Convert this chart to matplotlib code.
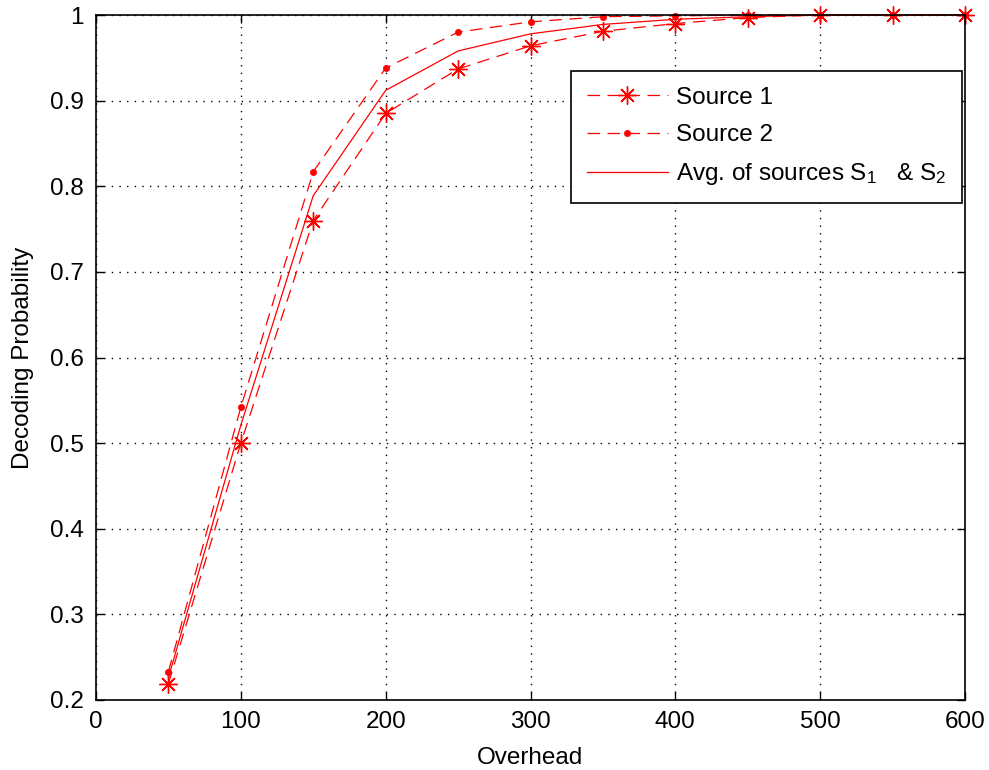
import matplotlib
matplotlib.use("Agg")
import matplotlib.pyplot as plt

family, fs = 'Liberation Sans', 17.5

plt.rcParams['font.family'] = [family, 'DejaVu Sans']
plt.rcParams['mathtext.fontset'] = 'custom'
plt.rcParams['mathtext.rm'] = family
plt.rcParams['mathtext.it'] = family

overhead = [50, 100, 150, 200, 250, 300, 350, 400, 450, 500, 550, 600]
source1 = [0.219, 0.500, 0.760, 0.885, 0.937, 0.964, 0.981, 0.990, 0.997, 1.0, 1.0, 1.0]
source2 = [0.233, 0.542, 0.817, 0.938, 0.980, 0.992, 0.998, 0.999, 1.0, 1.0, 1.0, 1.0]
average = [0.226, 0.521, 0.789, 0.912, 0.958, 0.978, 0.989, 0.995, 0.998, 1.0, 1.0, 1.0]

xticks = [0, 100, 200, 300, 400, 500, 600]
xticklabels = ['0', '100', '200', '300', '400', '500', '600']
yticks = [0.2, 0.3, 0.4, 0.5, 0.6, 0.7, 0.8, 0.9, 1.0]
yticklabels = ['0.2', '0.3', '0.4', '0.5', '0.6', '0.7', '0.8', '0.9', '1']

fig = plt.figure(figsize=(9.89, 7.70), dpi=100)
ax = fig.add_axes([96/989, 70/770, 869/989, 685/770])

red = '#FF0000'
ax.plot(overhead, source1, color=red, lw=0.9, linestyle=(0, (10, 6)),
        marker=(8, 2, 0), markersize=13, markeredgewidth=1.0,
        label='Source 1', clip_on=False, zorder=3)
ax.plot(overhead, source2, color=red, lw=0.9, linestyle=(0, (10, 6)),
        marker='o', markersize=4.5, markeredgewidth=0.5,
        label='Source 2', clip_on=False, zorder=3)
ax.plot(overhead, average, color=red, lw=0.9, linestyle='-',
        label=r'Avg. of sources $\mathregular{S_1}$   & $\mathregular{S_2}$',
        clip_on=False, zorder=3)

ax.set_xlim(0, 600)
ax.set_ylim(0.2, 1.0)
ax.set_xticks(xticks)
ax.set_xticklabels(xticklabels)
ax.set_yticks(yticks)
ax.set_yticklabels(yticklabels)
ax.tick_params(axis='x', pad=8)
ax.tick_params(axis='y', pad=9)
ax.tick_params(direction='in', length=6, width=1, top=True, right=True,
               labelsize=fs)
ax.grid(True, color='black', linestyle=(0, (1, 4.5)), linewidth=1.0)
for s in ax.spines.values():
    s.set_linewidth(1.2)
    s.set_zorder(4)

ax.set_xlabel('Overhead', fontsize=fs, labelpad=10)
ax.set_ylabel('Decoding Probability', fontsize=fs, labelpad=11)

em = fs * 100 / 72.0
leg = ax.legend(loc='upper left', bbox_to_anchor=(0.5466, 0.918),
                borderaxespad=0, fontsize=fs, handlelength=81/em,
                handletextpad=8/em, labelspacing=0.62, borderpad=0.65,
                fancybox=False, edgecolor='black', framealpha=1)
leg.get_frame().set_linewidth(1.2)

fig.savefig('out.png', dpi=100)
